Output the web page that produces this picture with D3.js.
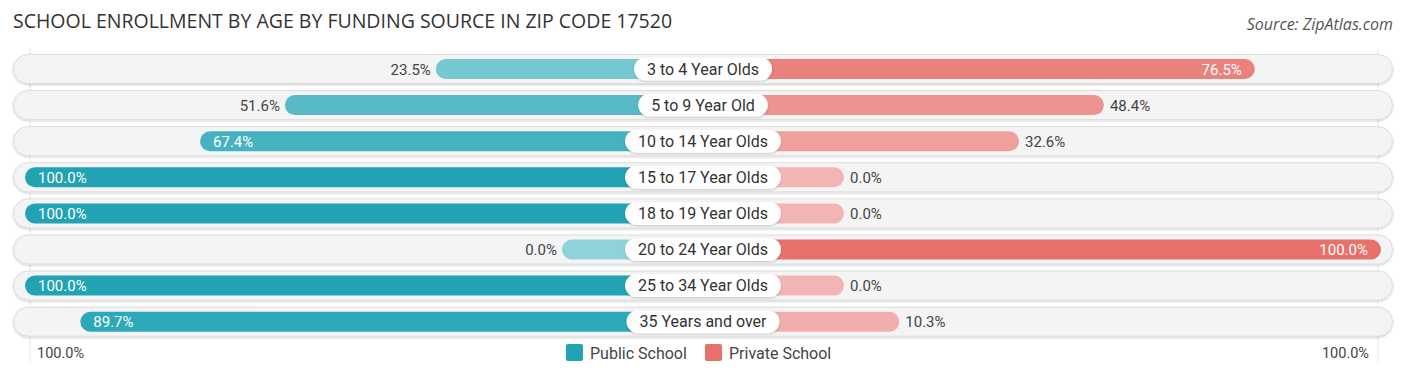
<!DOCTYPE html>
<html>
<head>
<meta charset="utf-8">
<script src="https://cdn.jsdelivr.net/npm/d3@7"></script>
<style>
  body { margin: 0; background: #fff; }
  text { font-family: Roboto, "Noto Sans", sans-serif; }
</style>
</head>
<body>
<div id="chart-area"></div>
<script>
// DATA
var categories = ["3 to 4 Year Olds", "5 to 9 Year Old", "10 to 14 Year Olds", "15 to 17 Year Olds",
    "18 to 19 Year Olds", "20 to 24 Year Olds", "25 to 34 Year Olds", "35 Years and over"];
var publicValues = [23.5, 51.6, 67.4, 100.0, 100.0, 0.0, 100.0, 89.7];
var privateValues = [76.5, 48.4, 32.6, 0.0, 0.0, 100.0, 0.0, 10.3];
var seriesNames = ["Public School", "Private School"];
var axisLabels = ["100.0%", "100.0%"];

var width = 1406;
var height = 377;
var center = 703;
var stub = 141;      // bars start under the label pill
var full = 678;      // length of a 100% bar from the center

var svg = d3.select("#chart-area")
    .append("svg")
    .attr("width", width)
    .attr("height", height);

// shadow for tracks and pills
var defs = svg.append("defs");
var f = defs.append("filter").attr("id", "shadow")
    .attr("x", "-5%").attr("y", "-30%").attr("width", "110%").attr("height", "160%");
f.append("feDropShadow").attr("dx", 0).attr("dy", 1).attr("stdDeviation", 1.2)
    .attr("flood-color", "#000").attr("flood-opacity", 0.2);

// TITLE
svg.append("text")
    .attr("x", 13).attr("y", 28)
    .attr("font-size", "19.5px")
    .style("font-family", "'Open Sans', sans-serif")
    .attr("fill", "#333")
    .text("SCHOOL ENROLLMENT BY AGE BY FUNDING SOURCE IN ZIP CODE 17520");

svg.append("text")
    .attr("x", 1393).attr("y", 30)
    .attr("text-anchor", "end")
    .attr("font-size", "16px")
    .attr("font-style", "italic")
    .style("font-family", "'Open Sans', sans-serif")
    .attr("fill", "#555")
    .text("Source: ZipAtlas.com");

// SCALES
var len = d3.scaleLinear().domain([0, 100]).range([stub, full]);

var pubColor = d3.scaleLinear().domain([0, 100]).range(["#8fd2da", "#22a3b4"]);
var privColor = d3.scaleLinear().domain([0, 100]).range(["#f2b5b3", "#e8716c"]);

// faint guide lines
svg.append("g").selectAll("line")
    .data([center - full + 5, center + full - 3])
    .enter().append("line")
    .attr("x1", (d) => d).attr("x2", (d) => d)
    .attr("y1", 48).attr("y2", 362)
    .attr("stroke", "#e4e4e4").attr("stroke-width", 1);

var rowH = 36.1;
var rows = svg.selectAll(".row").data(categories)
    .enter().append("g")
    .attr("class", "row")
    .attr("transform", (d, i) => "translate(0," + (69 + i * rowH) + ")");

// track
rows.append("rect")
    .attr("x", 13.5).attr("y", -14.5)
    .attr("width", 1379).attr("height", 29)
    .attr("rx", 14.5)
    .attr("fill", "#f4f4f4")
    .attr("stroke", "#dedede")
    .attr("stroke-width", 1)
    .attr("filter", "url(#shadow)");

// public bars
rows.append("rect")
    .attr("x", (d, i) => center - len(publicValues[i]))
    .attr("y", -10)
    .attr("width", (d, i) => len(publicValues[i]))
    .attr("height", 20)
    .attr("rx", 10)
    .attr("fill", (d, i) => pubColor(publicValues[i]));

// private bars
rows.append("rect")
    .attr("x", center)
    .attr("y", -10)
    .attr("width", (d, i) => len(privateValues[i]))
    .attr("height", 20)
    .attr("rx", 10)
    .attr("fill", (d, i) => privColor(privateValues[i]));

// value labels
rows.append("text")
    .attr("x", (d, i) => {
        var v = publicValues[i];
        var x0 = center - len(v);
        return v > 60 ? x0 + 13 : x0 - 5;
    })
    .attr("y", 5.5)
    .attr("text-anchor", (d, i) => publicValues[i] > 60 ? "start" : "end")
    .attr("font-size", "15px")
    .attr("fill", (d, i) => publicValues[i] > 60 ? "#fff" : "#444")
    .text((d, i) => publicValues[i].toFixed(1) + "%");

rows.append("text")
    .attr("x", (d, i) => {
        var v = privateValues[i];
        var x1 = center + len(v);
        return v > 60 ? x1 - 13 : x1 + 6;
    })
    .attr("y", 5.5)
    .attr("text-anchor", (d, i) => privateValues[i] > 60 ? "end" : "start")
    .attr("font-size", "15px")
    .attr("fill", (d, i) => privateValues[i] > 60 ? "#fff" : "#444")
    .text((d, i) => privateValues[i].toFixed(1) + "%");

// category pills
rows.each(function (d) {
    var g = d3.select(this);
    var t = g.append("text")
        .attr("x", center).attr("y", 5.5)
        .attr("text-anchor", "middle")
        .attr("font-size", "16px")
        .attr("fill", "#333")
        .text(d);
    var w = t.node().getComputedTextLength() + 26;
    g.insert("rect", function () { return t.node(); })
        .attr("x", center - w / 2).attr("y", -11.5)
        .attr("width", w).attr("height", 23)
        .attr("rx", 11.5)
        .attr("fill", "#fff")
        .attr("filter", "url(#shadow)");
});

// bottom axis labels
svg.append("text")
    .attr("x", 37).attr("y", 358)
    .attr("font-size", "14.5px").attr("fill", "#444")
    .text(axisLabels[0]);
svg.append("text")
    .attr("x", 1369).attr("y", 358)
    .attr("text-anchor", "end")
    .attr("font-size", "14.5px").attr("fill", "#444")
    .text(axisLabels[1]);

// LEGEND
var legend = svg.append("g");
var legendX = [566, 705];
var legendColors = ["#22a3b4", "#e8716c"];
seriesNames.forEach((name, i) => {
    legend.append("rect")
        .attr("x", legendX[i]).attr("y", 344)
        .attr("width", 17).attr("height", 17)
        .attr("rx", 2)
        .attr("fill", legendColors[i]);
    legend.append("text")
        .attr("x", legendX[i] + 24).attr("y", 359)
        .attr("font-size", "16px").attr("fill", "#444")
        .text(name);
});
</script>
</body>
</html>
